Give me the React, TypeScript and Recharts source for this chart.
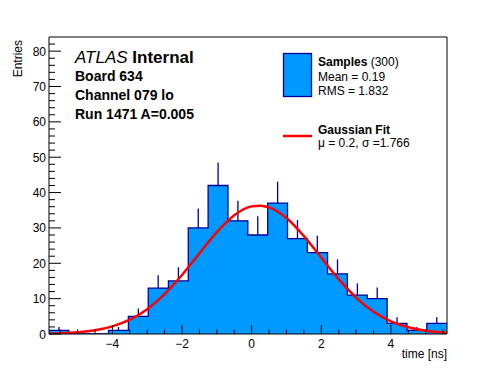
import React from "react";
import {
  ComposedChart,
  Area,
  Line,
  Scatter,
  ErrorBar,
  XAxis,
  YAxis,
  ReferenceLine,
} from "recharts";

// histogram: 20 bins, low edges in ns
const X_MIN = -5.82;
const X_MAX = 5.61;
const Y_MAX = 84;
const BIN_W = 0.5715;
const BIN_LO = [
  -5.82, -5.25, -4.68, -4.11, -3.54, -2.97, -2.39, -1.82, -1.25, -0.68,
  -0.11, 0.46, 1.03, 1.6, 2.18, 2.75, 3.32, 3.89, 4.46, 5.03,
];
const COUNTS = [1, 0, 0, 1, 5, 13, 15, 30, 42, 32, 28, 37, 27, 23, 17, 11, 10, 3, 1, 3];
const ERRS = [1, 0, 0, 1, 2.24, 3.61, 3.87, 5.48, 6.48, 5.66, 5.29, 6.08, 5.2, 4.8, 4.12, 3.32, 3.16, 1.73, 1, 1.73];

// gaussian fit curve
const FIT_X = [-5.82, -5.5, -5, -4.5, -4, -3.5, -3, -2.5, -2, -1.5, -1, -0.5, 0, 0.25, 0.5, 1, 1.5, 2, 2.5, 3, 3.5, 4, 4.5, 5, 5.5, 5.61];
const FIT_Y = [0.11, 0.2, 0.48, 1.05, 2.15, 4.04, 7.03, 11.3, 16.7, 22.8, 28.8, 33.6, 36.1, 36.3, 35.8, 32.8, 27.7, 21.6, 15.5, 10.3, 6.3, 3.6, 1.9, 0.9, 0.4, 0.34];

const X_MAJOR = [-4, -2, 0, 2, 4];
const X_TICKS = [-5.5, -5, -4.5, -4, -3.5, -3, -2.5, -2, -1.5, -1, -0.5, 0, 0.5, 1, 1.5, 2, 2.5, 3, 3.5, 4, 4.5, 5, 5.5];
const Y_MAJOR = [0, 10, 20, 30, 40, 50, 60, 70, 80];
const Y_TICKS = Array.from({ length: 42 }, (_, i) => i * 2);

const FONT = "'Liberation Sans', Arial, Helvetica, sans-serif";
const FILL = "#0099ff";
const EDGE = "#000099";
const W = 496;
const H = 372;
const MARGIN = { top: 37, right: 49, bottom: 8, left: 9 };

const histData = [
  ...BIN_LO.map((lo, i) => ({ x: lo, y: COUNTS[i] })),
  { x: X_MAX, y: COUNTS[COUNTS.length - 1] },
];
const errData = BIN_LO.map((lo, i) => ({
  x: lo + BIN_W / 2,
  y: COUNTS[i],
  err: [0, ERRS[i]],
})).filter((d) => d.y > 0);
const fitData = FIT_X.map((x, i) => ({ x, y: FIT_Y[i] }));

const fmt = (v: number) => (v < 0 ? `\u2212${-v}` : `${v}`);

// ROOT style: ticks point into the frame, labels outside
const renderXTick = (props: any) => {
  const { x, y, payload } = props;
  const major = X_MAJOR.includes(payload.value);
  return (
    <g key={`xt-${payload.value}`}>
      <line x1={x} x2={x} y1={y} y2={y - (major ? 9 : 4.5)} stroke="#000" />
      {major && (
        <text x={x} y={y + 14} textAnchor="middle" fontSize={12} fontFamily={FONT} fill="#000">
          {fmt(payload.value)}
        </text>
      )}
    </g>
  );
};

const renderYTick = (props: any) => {
  const { x, y, payload } = props;
  const major = Y_MAJOR.includes(payload.value);
  return (
    <g key={`yt-${payload.value}`}>
      <line x1={x} x2={x + (major ? 12 : 6)} y1={y} y2={y} stroke="#000" />
      {major && (
        <text x={x - 3} y={y + 4.5} textAnchor="end" fontSize={12} fontFamily={FONT} fill="#000">
          {payload.value}
        </text>
      )}
    </g>
  );
};

// same axis geometry for both layers; `show` draws ticks + frame
function axes(show: boolean) {
  return [
    <XAxis
      key="x"
      type="number"
      dataKey="x"
      domain={[X_MIN, X_MAX]}
      allowDataOverflow
      ticks={X_TICKS}
      interval={0}
      height={30}
      tickSize={0}
      tickMargin={0}
      tick={show ? renderXTick : false}
      axisLine={show ? { stroke: "#000" } : false}
      tickLine={false}
    />,
    <YAxis
      key="y"
      type="number"
      domain={[0, Y_MAX]}
      allowDataOverflow
      ticks={Y_TICKS}
      interval={0}
      width={40}
      tickSize={0}
      tickMargin={0}
      tick={show ? renderYTick : false}
      axisLine={show ? { stroke: "#000" } : false}
      tickLine={false}
    />,
  ];
}

export default function App() {
  return (
    <div style={{ position: "absolute", left: 0, top: 0, width: W, height: H, background: "#fff" }}>
      <ComposedChart width={W} height={H} margin={MARGIN}>
        <Area
          data={histData}
          dataKey="y"
          type="stepAfter"
          fill={FILL}
          fillOpacity={1}
          stroke={EDGE}
          strokeWidth={1.3}
          baseValue={0}
          isAnimationActive={false}
        />
        <Scatter data={errData} dataKey="y" shape={() => <g />} isAnimationActive={false}>
          <ErrorBar dataKey="err" direction="y" width={0} stroke={EDGE} strokeWidth={1.3} />
        </Scatter>
        <Line
          data={fitData}
          dataKey="y"
          type="monotone"
          stroke="#ff0000"
          strokeWidth={2.5}
          dot={false}
          isAnimationActive={false}
        />
        {axes(false)}
      </ComposedChart>

      {/* axes layer on top so the ticks show over the filled bins */}
      <div style={{ position: "absolute", left: 0, top: 0 }}>
        <ComposedChart width={W} height={H} margin={MARGIN}>
          <Line data={fitData} dataKey="y" stroke="none" dot={false} isAnimationActive={false} />
          {axes(true)}
          <ReferenceLine x={X_MAX} stroke="#000" />
          <ReferenceLine y={Y_MAX} stroke="#000" />
        </ComposedChart>
      </div>

      <svg
        width={W}
        height={H}
        style={{ position: "absolute", left: 0, top: 0, pointerEvents: "none" }}
        fontFamily={FONT}
      >
        <text x={22} y={40} transform="rotate(-90 22 40)" textAnchor="end" fontSize={12}>
          Entries
        </text>
        <text x={447} y={358} textAnchor="end" fontSize={12}>
          time [ns]
        </text>

        <text x={75} y={63} fontSize={17}>
          <tspan fontStyle="italic">ATLAS</tspan>
          <tspan fontWeight="bold"> Internal</tspan>
        </text>
        <text x={75} y={81} fontSize={14} fontWeight="bold">Board 634</text>
        <text x={75} y={100} fontSize={14} fontWeight="bold">Channel 079 lo</text>
        <text x={75} y={119} fontSize={14} fontWeight="bold">Run 1471 A=0.005</text>

        <rect x={283.5} y={53.5} width={28} height={43} fill={FILL} stroke={EDGE} strokeWidth={1.3} />
        <text x={318} y={66} fontSize={12}>
          <tspan fontWeight="bold">Samples</tspan>
          <tspan> (300)</tspan>
        </text>
        <text x={318} y={81} fontSize={12}>Mean = 0.19</text>
        <text x={318} y={94.5} fontSize={12}>RMS = 1.832</text>

        <line x1={283} x2={312} y1={136} y2={136} stroke="#ff0000" strokeWidth={2.5} />
        <text x={318} y={133.5} fontSize={12} fontWeight="bold">Gaussian Fit</text>
        <text x={318} y={147} fontSize={12}>μ = 0.2, σ =1.766</text>
      </svg>
    </div>
  );
}
